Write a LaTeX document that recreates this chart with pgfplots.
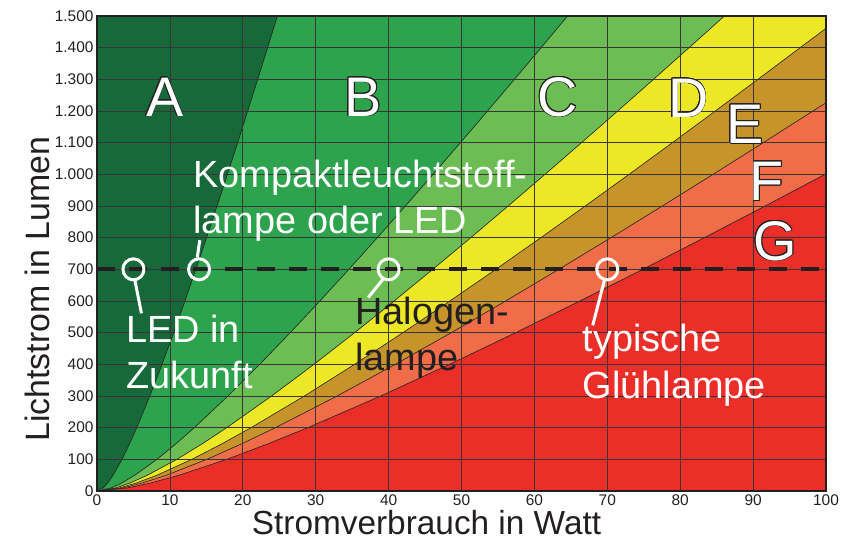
\documentclass[border=0pt]{standalone}
\usepackage{pgfplots}
\pgfplotsset{compat=1.18}
\usepackage{fontspec}
\setmainfont{Liberation Sans}
\usepackage{contour}
\contourlength{0.8pt}
\definecolor{cA}{RGB}{23,105,58}
\definecolor{cB}{RGB}{46,163,77}
\definecolor{cC}{RGB}{107,189,84}
\definecolor{cD}{RGB}{236,232,37}
\definecolor{cE}{RGB}{199,148,43}
\definecolor{cF}{RGB}{241,108,72}
\definecolor{cG}{RGB}{236,46,41}
\definecolor{ink}{RGB}{35,31,32}
\begin{document}
\begin{tikzpicture}
\begin{axis}[
  set layers,
  scale only axis, width=729bp, height=475bp,
  xmin=0, xmax=100, ymin=0, ymax=1500,
  xtick={0,10,...,100}, ytick={0,100,...,1500},
  grid=major, major grid style={draw=ink!90, line width=0.7bp},
  axis line style={draw=ink, line width=1.2bp},
  major tick length=0pt,
  ticklabel style={font=\fontsize{15.5}{18}\selectfont, text=ink},
  /pgf/number format/1000 sep={.},
  /pgf/number format/assume math mode=true,
  xlabel={Stromverbrauch in Watt},
  ylabel={Lichtstrom in Lumen},
  xlabel style={font=\fontsize{33.5}{38}\selectfont, text=ink, at={(ticklabel cs:0.452)}, inner sep=1pt},
  ylabel style={font=\fontsize{34}{38}\selectfont, text=ink, at={(ticklabel cs:0.425)}, inner sep=1pt},
]
\coordinate (SW) at (rel axis cs:0,0);
\coordinate (NE) at (rel axis cs:1,1);
% G background
\addplot[on layer=axis background, fill=cG, draw=none] coordinates {(0,0)(100,0)(100,1500)(0,1500)(0,0)};
% F region (left of F/G boundary)
\addplot[on layer=axis background, fill=cF, draw=ink, line width=0.6bp] coordinates {
(0,0) (4.255,10) (7.313,25) (11.274,50) (17.81,100) (23.565,150) (28.919,200) (38.925,300) (48.36,400) (57.43,500) (66.243,600) (74.858,700) (83.317,800) (91.65,900) (99.876,1000) (100,1001.6)
(100,1500) (0,1500) (0,0)};
% E region
\addplot[on layer=axis background, fill=cE, draw=ink, line width=0.6bp] coordinates {
(0,0) (3.6,10) (6.188,25) (9.54,50) (15.07,100) (19.94,150) (24.47,200) (32.936,300) (40.92,400) (48.595,500) (56.052,600) (63.341,700) (70.499,800) (77.55,900) (84.511,1000) (91.395,1100) (98.212,1200) (100,1226)
(100,1500) (0,1500) (0,0)};
% D region
\addplot[on layer=axis background, fill=cD, draw=ink, line width=0.6bp] coordinates {
(0,0) (3.109,10) (5.344,25) (8.239,50) (13.015,100) (17.221,150) (21.133,200) (28.445,300) (35.34,400) (41.968,500) (48.408,600) (54.704,700) (60.886,800) (66.975,900) (72.987,1000) (78.932,1100) (84.82,1200) (90.658,1300) (96.451,1400) (100,1461)
(100,1500) (0,1500) (0,0)};
% C region
\addplot[on layer=axis background, fill=cC, draw=ink, line width=0.6bp] coordinates {
(0,0) (2.618,10) (4.5,25) (6.938,50) (10.96,100) (14.502,150) (17.796,200) (23.954,300) (29.76,400) (35.342,500) (40.765,600) (46.066,700) (51.272,800) (56.4,900) (61.462,1000) (66.469,1100) (71.427,1200) (76.343,1300) (81.222,1400) (86.066,1500)
(0,1500) (0,0)};
% B region
\addplot[on layer=axis background, fill=cB, draw=ink, line width=0.6bp] coordinates {
(0,0) (1.964,10) (3.375,25) (5.204,50) (8.22,100) (10.876,150) (13.347,200) (17.965,300) (22.32,400) (26.506,500) (30.574,600) (34.55,700) (38.454,800) (42.3,900) (46.097,1000) (49.852,1100) (53.57,1200) (57.257,1300) (60.916,1400) (64.549,1500)
(0,1500) (0,0)};
% A region
\addplot[on layer=axis background, fill=cA, draw=ink, line width=0.6bp] coordinates {
(0,0) (0.862,10) (1.458,25) (2.212,50) (3.43,100) (4.484,150) (5.454,200) (7.247,300) (8.92,400) (10.517,500) (12.059,600) (13.56,700) (15.028,800) (16.47,900) (17.89,1000) (19.29,1100) (20.674,1200) (22.043,1300) (23.4,1400) (24.745,1500)
(0,1500) (0,0)};
% dashed 700 lm line
\addplot[draw=ink, line width=4bp, dash pattern=on 18bp off 14bp] coordinates {(0,700) (100,700)};
% leader lines
\addplot[draw=white, line width=3bp] coordinates {(5.2,665) (6.1,561)};
\addplot[draw=white, line width=3bp] coordinates {(13.75,737) (14.1,792)};
\addplot[draw=white, line width=3bp] coordinates {(39.2,668) (37.2,611)};
\addplot[draw=white, line width=3bp] coordinates {(69.6,665) (68.0,523)};
% rings
\addplot[only marks, mark=o, mark size=10.5bp, mark options={draw=white, line width=3bp}] coordinates {(5,700) (14,700) (40,700) (70,700)};
% class letters
\node[font=\fontsize{56}{60}\selectfont, text=white, anchor=base] at (axis cs:9.3,1184) {\contour{ink}{A}};
\node[font=\fontsize{56}{60}\selectfont, text=white, anchor=base] at (axis cs:36.5,1184) {\contour{ink}{B}};
\node[font=\fontsize{56}{60}\selectfont, text=white, anchor=base] at (axis cs:63.2,1184) {\contour{ink}{C}};
\node[font=\fontsize{56}{60}\selectfont, text=white, anchor=base] at (axis cs:81.1,1181) {\contour{ink}{D}};
\node[font=\fontsize{56}{60}\selectfont, text=white, anchor=base] at (axis cs:88.9,1098) {\contour{ink}{E}};
\node[font=\fontsize{56}{60}\selectfont, text=white, anchor=base] at (axis cs:91.9,918) {\contour{ink}{F}};
\node[font=\fontsize{56}{60}\selectfont, text=white, anchor=base] at (axis cs:93.0,729) {\contour{ink}{G}};
% annotations (anchor = baseline of the last line)
\node[font=\fontsize{38}{46}\selectfont, text=white, anchor=base west, align=left, inner sep=0pt] at (axis cs:13.2,814) {Kompaktleuchtstoff-\\lampe oder LED};
\node[font=\fontsize{38}{46}\selectfont, text=white, anchor=base west, align=left, inner sep=0pt] at (axis cs:4.0,325) {LED in\\Zukunft};
\node[font=\fontsize{38}{46}\selectfont, text=ink, anchor=base west, align=left, inner sep=0pt] at (axis cs:35.4,381) {Halogen-\\lampe};
\node[font=\fontsize{38}{47}\selectfont, text=white, anchor=base west, align=left, inner sep=0pt] at (axis cs:66.6,292) {typische\\Glühlampe};
\end{axis}
\pgfresetboundingbox
\path ([xshift=-97bp,yshift=-51bp]SW) rectangle ([xshift=15bp,yshift=16bp]NE);
\end{tikzpicture}
\end{document}
